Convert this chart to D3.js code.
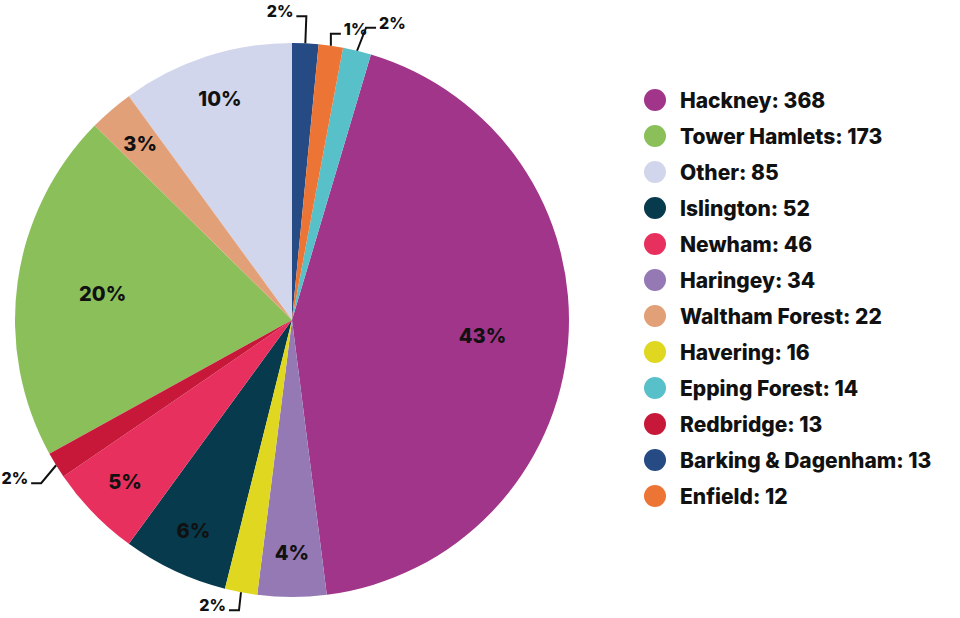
<!DOCTYPE html>
<html>
<head>
<meta charset="utf-8">
<script src="https://cdn.jsdelivr.net/npm/d3@7"></script>
<style>
  body { margin: 0; background: #fff; }
  text { font-family: Inter, "Noto Sans", sans-serif; font-weight: 800; fill: #111; }
</style>
</head>
<body>
<div id="chart"></div>
<script>
// legend order (largest first)
var boroughs = ["Hackney", "Tower Hamlets", "Other", "Islington", "Newham", "Haringey",
  "Waltham Forest", "Havering", "Epping Forest", "Redbridge", "Barking & Dagenham", "Enfield"];
var counts = [368, 173, 85, 52, 46, 34, 22, 16, 14, 13, 13, 12];
var colours = ["#a1358a", "#8bbf5a", "#d1d6ec", "#073a4c", "#e8305f", "#9479b5",
  "#e1a078", "#dfd720", "#58c0c9", "#c8183a", "#264a84", "#ec7535"];
// order the slices go round the pie, clockwise from 12 o'clock
var sliceOrder = ["Barking & Dagenham", "Enfield", "Epping Forest", "Hackney", "Haringey",
  "Havering", "Islington", "Newham", "Redbridge", "Tower Hamlets", "Waltham Forest", "Other"];

(function() {
    var width = 960, height = 618;
    var cx = 292, cy = 320, r = 277;

    var svg = d3.select("#chart").append("svg")
        .attr("width", width)
        .attr("height", height);

    var data = boroughs.map(function(b, i) {
        return { name: b, value: counts[i], colour: colours[i] };
    });
    var total = d3.sum(counts);

    var pie = d3.pie()
        .value(d => d.value)
        .sort((a, b) => sliceOrder.indexOf(a.name) - sliceOrder.indexOf(b.name));
    var arcs = pie(data);

    var arc = d3.arc().innerRadius(0).outerRadius(r);

    var g = svg.append("g").attr("transform", "translate(" + cx + "," + cy + ")");

    g.selectAll("path")
        .data(arcs)
        .enter().append("path")
        .attr("d", arc)
        .attr("fill", d => d.data.colour);

    var pct = d => Math.round(d.data.value / total * 100) + "%";
    var share = d => d.data.value / total;

    // labels inside the bigger slices
    g.selectAll("text.in")
        .data(arcs.filter(d => share(d) >= 0.025))
        .enter().append("text")
        .attr("class", "in")
        .attr("transform", function(d) {
            var rr = share(d) > 0.15 ? r * 0.69 : r * 0.84;
            var c = d3.arc().innerRadius(rr).outerRadius(rr).centroid(d);
            return "translate(" + c + ")";
        })
        .attr("text-anchor", "middle")
        .attr("dy", "0.36em")
        .attr("font-size", 20)
        .text(pct);

    // leader lines for the thin slices: [dx, dy, side]
    var leaders = {
        "Barking & Dagenham": [1, -27, -1],
        "Enfield": [0, -12, 1],
        "Epping Forest": [9, -23, 1],
        "Redbridge": [-15, 18, -1],
        "Havering": [-2, 18, -1]
    };

    var small = arcs.filter(d => share(d) < 0.025);
    small.forEach(function(d) {
        var a = (d.startAngle + d.endAngle) / 2;
        var p0 = [r * Math.sin(a), -r * Math.cos(a)];
        var lay = leaders[d.data.name];
        var p1 = [p0[0] + lay[0], p0[1] + lay[1]];
        var p2 = [p1[0] + lay[2] * 10, p1[1]];
        g.append("path")
            .attr("d", d3.line()([p0, p1, p2]))
            .attr("fill", "none")
            .attr("stroke", "#111")
            .attr("stroke-width", 2);
        g.append("text")
            .attr("x", p2[0] + lay[2] * 3)
            .attr("y", p2[1])
            .attr("dy", "0.05em")
            .attr("text-anchor", lay[2] < 0 ? "end" : "start")
            .attr("font-size", 16)
            .text(pct(d));
    });

    // legend
    var legend = svg.append("g").attr("transform", "translate(655,100)");
    var row = legend.selectAll("g")
        .data(data)
        .enter().append("g")
        .attr("transform", (d, i) => "translate(0," + i * 36 + ")");
    row.append("circle")
        .attr("r", 11)
        .attr("fill", d => d.colour);
    row.append("text")
        .attr("x", 25)
        .attr("dy", "0.36em")
        .attr("font-size", 21)
        .text(d => d.name + ": " + d.value);
})();
</script>
</body>
</html>
